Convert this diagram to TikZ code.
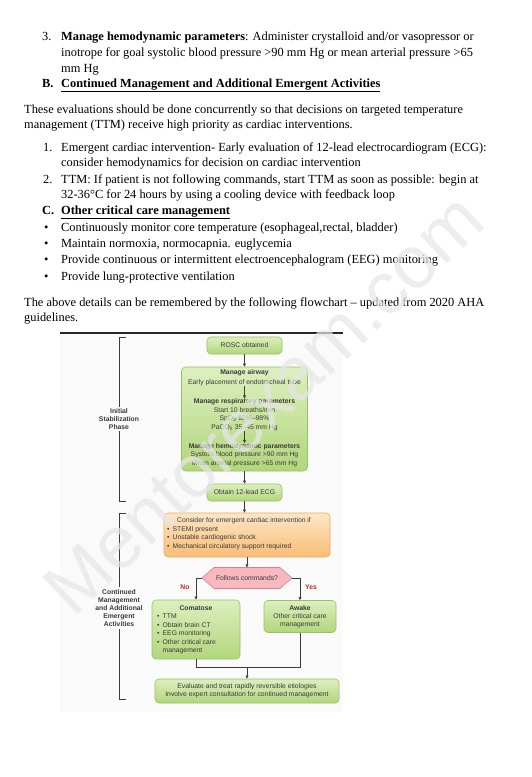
\documentclass[tikz,border=0pt]{standalone}
\usepackage{fontspec}
\setmainfont{Liberation Serif}
\newfontfamily\fcfont{Liberation Sans}
\usetikzlibrary{arrows.meta,calc}
\definecolor{gtop}{HTML}{DDEFBF}
\definecolor{gbot}{HTML}{B2D67C}
\definecolor{gborder}{HTML}{96C262}
\definecolor{otop}{HTML}{FDE7C6}
\definecolor{obot}{HTML}{F9BC76}
\definecolor{oborder}{HTML}{F0AA60}
\definecolor{hexfill}{HTML}{F7B8BF}
\definecolor{hexborder}{HTML}{DE7F8B}
\definecolor{ansred}{HTML}{C6262C}
\definecolor{fctext}{HTML}{3A3A3A}
\definecolor{lncol}{HTML}{3C3C3C}
\definecolor{wmcol}{HTML}{E6E6E6}
\definecolor{imgbg}{HTML}{FAFAFA}
\tikzset{
  body/.style={anchor=base west, inner sep=0pt, font=\fontsize{12.4}{14}\selectfont},
  ft/.style={font=\fcfont\fontsize{6.8}{8.2}\selectfont, text=fctext, inner sep=0pt, align=center},
  ftb/.style={ft, font=\fcfont\bfseries\fontsize{6.8}{8.2}\selectfont},
  ftl/.style={ft, anchor=west, align=left},
  gbox/.style={draw=gborder, rounded corners=4pt, top color=gtop, bottom color=gbot, line width=0.6pt},
  obox/.style={draw=oborder, rounded corners=4pt, top color=otop, bottom color=obot, line width=0.6pt},
  arr/.style={-{Triangle[length=3.2pt,width=2.8pt]}, draw=lncol, line width=0.7pt},
  ln/.style={draw=lncol, line width=0.7pt},
  brk/.style={draw=lncol, line width=0.9pt},
  side/.style={ftb, fill=imgbg, inner sep=1.5pt},
  ansl/.style={font=\fcfont\bfseries\fontsize{6.8}{8}\selectfont, text=ansred, inner sep=0pt}
}
\newcommand{\bul}{\makebox[5.5pt][l]{•}}
\begin{document}
\begin{tikzpicture}[x=1pt,y=-1pt]
\useasboundingbox (0,0) rectangle (531,777);
\fill[white] (0,0) rectangle (531,777);
\fill[imgbg] (60,334) rectangle (343,712);
% ---------- body text ----------
\node[body] (n3) at (42,40) {3.};
\node[body] (t1) at (61,40) {\textbf{Manage hemodynamic parameters}: Administer crystalloid and/or vasopressor or};
\node[body] (t2) at (61,56) {inotrope for goal systolic blood pressure >90 mm Hg or mean arterial pressure >65};
\node[body] (t3) at (61,72) {mm Hg};
\node[body] (nB) at (42,87.5) {\textbf{B.}};
\node[body] (t4) at (61,87.5) {\textbf{\underline{Continued Management and Additional Emergent Activities}}};
\node[body] (t5) at (24,113) {These evaluations should be done concurrently so that decisions on targeted temperature};
\node[body] (t6) at (24,128.5) {management (TTM) receive high priority as cardiac interventions.};
\node[body] (n1) at (43,151) {1.};
\node[body] (t7) at (61,151) {Emergent cardiac intervention- Early evaluation of 12-lead electrocardiogram (ECG):};
\node[body] (t8) at (61,166.5) {consider hemodynamics for decision on cardiac intervention};
\node[body] (n2) at (43,183) {2.};
\node[body] (t9) at (61,183) {TTM: If patient is not following commands, start TTM as soon as possible: begin at};
\node[body] (t10) at (61,198.5) {32-36°C for 24 hours by using a cooling device with feedback loop};
\node[body] (nC) at (42,214) {\textbf{C.}};
\node[body] (t11) at (61,214) {\textbf{\underline{Other critical care management}}};
\node[body] (b1) at (44,231) {•};
\node[body] (t12) at (61,231) {Continuously monitor core temperature (esophageal,rectal, bladder)};
\node[body] (b2) at (44,247) {•};
\node[body] (t13) at (61,247) {Maintain normoxia, normocapnia. euglycemia};
\node[body] (b3) at (44,263.5) {•};
\node[body] (t14) at (61,263.5) {Provide continuous or intermittent electroencephalogram (EEG) monitoring};
\node[body] (b4) at (44,280.5) {•};
\node[body] (t15) at (61,280.5) {Provide lung-protective ventilation};
\node[body] (t16) at (24,306) {The above details can be remembered by the following flowchart – updated from 2020 AHA};
\node[body] (t17) at (24,321) {guidelines.};
% ---------- top rule ----------
\draw[line width=1.6pt, black!85] (60,333) -- (343,333);
% ---------- brackets ----------
\node[side] (lab1) at (119,419) {Initial\\Stabilization\\Phase};
\draw[brk] (126,337) -- (119,337) -- (lab1.north);
\draw[brk] (lab1.south) -- (119,501) -- (126,501);
\node[side] (lab2) at (119,608) {Continued\\Management\\and Additional\\Emergent\\Activities};
\draw[brk] (126,513) -- (119,513) -- (lab2.north);
\draw[brk] (lab2.south) -- (119,699) -- (126,699);
% ---------- flowchart ----------
\node[gbox, ft, minimum width=75pt, minimum height=17pt] (rosc) at (244.5,345.5) {ROSC obtained};
\node[gbox, minimum width=126pt, minimum height=104pt] (stab) at (244.5,419) {};
\node[ftb] (aw1) at (244.5,373) {Manage airway};
\node[ft] (aw2) at (244.5,383) {Early placement of endotracheal tube};
\node[ftb] (rp1) at (244.5,402) {Manage respiratory parameters};
\node[ft] (rp2) at (244.5,410.5) {Start 10 breaths/min};
\node[ft] (rp3) at (244.5,419) {SpO\textsubscript{2} 92\%–98\%};
\node[ft] (rp4) at (244.5,427.5) {PaCO\textsubscript{2} 35–45 mm Hg};
\node[ftb] (hd1) at (244.5,446.5) {Manage hemodynamic parameters};
\node[ft] (hd2) at (244.5,455) {Systolic blood pressure >90 mm Hg};
\node[ft] (hd3) at (244.5,463.5) {Mean arterial pressure >65 mm Hg};
\draw[arr] (rosc) -- (stab);
\draw[arr] (aw2) -- (rp1);
\draw[arr] (rp4) -- (hd1);
\node[gbox, ft, minimum width=75pt, minimum height=17pt] (ecg) at (244.5,492.5) {Obtain 12-lead ECG};
\draw[arr] (stab) -- (ecg);
\node[obox, minimum width=166pt, minimum height=44pt] (ora) at (247,535) {};
\node[ft] (o1) at (244,521) {Consider for emergent cardiac intervention if};
\node[ftl] (o2) at (167,529.5) {\bul STEMI present};
\node[ftl] (o3) at (167,538) {\bul Unstable cardiogenic shock};
\node[ftl] (o4) at (167,546.5) {\bul Mechanical circulatory support required};
\draw[arr] (ecg.south) -- (ecg.south |- ora.north);
% decision hexagon
\coordinate (decL) at (202,578);
\coordinate (decR) at (292,578);
\coordinate (decT) at (247,567.5);
\draw[draw=hexborder, fill=hexfill, line width=0.6pt] (decL) -- (214,567.5) -- (280,567.5) -- (decR) -- (280,588.5) -- (214,588.5) -- cycle;
\node[ft] (dec) at (247,578) {Follows commands?};
\draw[arr] (ora.south) -- (decT);
\node[ansl] (no) at (185,587) {No};
\node[ansl] (yes) at (311,587) {Yes};
% comatose
\node[gbox, minimum width=88pt, minimum height=59pt] (com) at (196,629.5) {};
\node[ftb] (c1) at (196,608) {Comatose};
\node[ftl] (c2) at (157,616.5) {\bul TTM};
\node[ftl] (c3) at (157,625) {\bul Obtain brain CT};
\node[ftl] (c4) at (157,633.5) {\bul EEG monitoring};
\node[ftl] (c5) at (157,642) {\bul Other critical care};
\node[ftl] (c6) at (157,650.5) {\makebox[5.5pt][l]{}management};
% awake
\node[gbox, minimum width=72pt, minimum height=32pt] (awk) at (300,616.5) {};
\node[ftb] (a1) at (300,608) {Awake};
\node[ft] (a2) at (300,616.5) {Other critical care};
\node[ft] (a3) at (300,624.7) {management};
\draw[arr] (decL) -| (com.north);
\draw[arr] (decR) -| (awk.north);
% final
\coordinate (j) at (247,667);
\node[gbox, ft, minimum width=184pt, minimum height=24pt] (fin) at (247,691) {Evaluate and treat rapidly reversible etiologies\\Involve expert consultation for continued management};
\draw[ln] (com.south) -- (com.south |- j) -- (awk.south |- j) -- (awk.south);
\draw[arr] (j) -- (fin.north);
% ---------- watermark ----------
\node[rotate=43.5, font=\fcfont\fontsize{74}{74}\selectfont, text=wmcol, opacity=0.7, inner sep=0pt] (wm) at (264,404) {Mentorexam.com};
\end{tikzpicture}
\end{document}
